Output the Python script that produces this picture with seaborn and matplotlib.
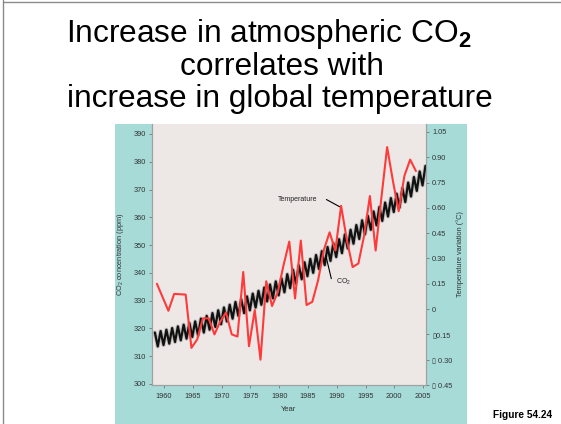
import pandas as pd
import matplotlib
matplotlib.use("Agg")
import matplotlib.pyplot as plt
import seaborn as sns
from matplotlib.patches import Rectangle
from matplotlib.lines import Line2D

# --- valores ---
# variacao anual de temperatura (linha vermelha)
temp_years = list(range(1958, 2004))
temp_values = [0.15, 0.07, -0.01, 0.09, 0.088, 0.086, -0.23, -0.18, -0.055, -0.055,
               -0.15, -0.075, -0.02, -0.15, -0.163, 0.22, -0.22, -0.006, -0.30, 0.165,
               0.018, 0.10, 0.26, 0.40, 0.063, 0.406, 0.024, 0.043, 0.17, 0.35,
               0.455, 0.347, 0.612, 0.41, 0.249, 0.27, 0.435, 0.67, 0.347, 0.66,
               0.96, 0.76, 0.58, 0.79, 0.886, 0.818]

# CO2: maximo e minimo sazonal de cada ano (linha preta em zigue-zague)
co2_high_years = list(range(1958, 2006))
co2_high = [318.5, 319.0, 319.5, 320.1, 320.7, 321.3, 321.9, 322.5, 323.5, 324.5,
            325.5, 326.5, 327.5, 328.5, 329.5, 330.5, 331.5, 332.5, 333.5, 334.7,
            335.8, 336.9, 338.0, 339.5, 341.1, 342.7, 343.8, 345.0, 346.4, 347.8,
            349.3, 350.7, 352.1, 353.8, 355.5, 357.2, 358.9, 360.5, 362.1, 363.7,
            365.3, 366.9, 368.5, 370.5, 372.5, 374.5, 376.5, 378.5]
co2_low_years = list(range(1958, 2005))
co2_low = [313.5, 314.0, 314.5, 315.1, 315.7, 316.3, 316.9, 317.5, 318.5, 319.5,
           320.5, 321.5, 322.5, 323.5, 324.5, 325.5, 326.5, 327.5, 328.5, 329.7,
           330.8, 331.9, 333.0, 334.5, 336.1, 337.7, 338.8, 340.0, 341.4, 342.8,
           344.3, 345.7, 347.1, 348.8, 350.5, 352.2, 353.9, 355.5, 357.1, 358.7,
           360.3, 361.9, 363.5, 365.5, 367.5, 369.5, 371.5]

year_ticks = [1960, 1965, 1970, 1975, 1980, 1985, 1990, 1995, 2000, 2005]
co2_ticks = [300, 310, 320, 330, 340, 350, 360, 370, 380, 390]
temp_ticks = [-0.45, -0.30, -0.15, 0, 0.15, 0.30, 0.45, 0.60, 0.75, 0.90, 1.05]
temp_labels = ["\u25af 0.45", "\u25af 0.30", "\u25af0.15", "0", "0.15", "0.30",
               "0.45", "0.60", "0.75", "0.90", "1.05"]

sns.set_theme(style="white")
plt.rcParams['font.family'] = ['Liberation Sans', 'DejaVu Sans']
plt.rcParams['mathtext.fontset'] = 'custom'
plt.rcParams['mathtext.rm'] = 'Liberation Sans'
plt.rcParams['mathtext.bf'] = 'Liberation Sans:bold'

# tabela do zigue-zague: picos no meio do ano, vales no fim
df_co2 = pd.concat([
    pd.DataFrame({'x': [y + 0.4 for y in co2_high_years], 'ppm': co2_high}),
    pd.DataFrame({'x': [y + 0.9 for y in co2_low_years], 'ppm': co2_low}),
]).sort_values('x')
df_temp = pd.DataFrame({'x': [y + 0.75 for y in temp_years], 'temp': temp_values})

fig = plt.figure(figsize=(5.61, 4.24), dpi=100)
fig.patch.set_facecolor('white')

# painel azul-esverdeado de fundo (atras dos eixos)
fig.patches.append(Rectangle((115 / 561, 0), 352 / 561, 300 / 424,
                             transform=fig.transFigure, facecolor='#A6DBD8',
                             edgecolor='none', zorder=-5))
# borda do slide
fig.lines.append(Line2D([3 / 561, 3 / 561], [0, 1], transform=fig.transFigure,
                        color='#8a8a8a', lw=1, zorder=-4))
fig.lines.append(Line2D([3 / 561, 1], [1 - 1.5 / 424, 1 - 1.5 / 424],
                        transform=fig.transFigure, color='#8a8a8a', lw=1, zorder=-4))

ax = fig.add_axes([152 / 561, 39 / 424, 274 / 561, 261 / 424])
ax.set_facecolor('#EDE8E6')
ax2 = ax.twinx()
ax2.patch.set_visible(False)

sns.lineplot(data=df_co2, x='x', y='ppm', ax=ax, color='#9a9a9a', linewidth=3.0,
             alpha=0.55, estimator=None)
sns.lineplot(data=df_co2, x='x', y='ppm', ax=ax, color='#111111', linewidth=1.6,
             estimator=None)
sns.lineplot(data=df_temp, x='x', y='temp', ax=ax2, color='#FF3A3A', linewidth=1.5,
             estimator=None)

ax.set_xlim(1957.9, 2005.5)
ax.set_ylim(299.6, 393.6)
ax2.set_ylim(-0.45, 1.097)

ax.set_xticks(year_ticks)
ax.set_xticklabels([str(y) for y in year_ticks])
ax.set_yticks(co2_ticks)
ax.set_yticklabels([str(v) for v in co2_ticks])
ax2.set_yticks(temp_ticks)
ax2.set_yticklabels(temp_labels)

for a in (ax, ax2):
    a.tick_params(axis='both', labelsize=5.3, labelcolor='#333333', color='#777777',
                  length=2.5, width=0.6, pad=2)
    a.spines['top'].set_visible(False)
    for side in ('left', 'bottom', 'right'):
        a.spines[side].set_color('#a0a0a0')
        a.spines[side].set_linewidth(0.8)
ax.tick_params(axis='x', bottom=True, pad=3.5)
ax.tick_params(axis='y', left=True)
ax2.tick_params(axis='y', right=True)

ax.set_xlabel('Year', fontsize=5.5, color='#333333', labelpad=4)
ax.set_ylabel('CO$_2$ concentration (ppm)', fontsize=5.3, color='#333333', labelpad=5)
ax2.set_ylabel('Temperature variation (\u00b0C)', fontsize=5.3, color='#333333', labelpad=3)

# rotulos das curvas
ax.text(1986.7, 366.4, 'Temperature', fontsize=5, ha='right', va='center', color='#222222')
ax.plot([1988.2, 1990.5], [366.4, 363.8], color='black', lw=0.8)
ax.text(1989.9, 336.8, 'CO$_2$', fontsize=5, ha='left', va='center', color='#222222')
ax.plot([1988.1, 1989.05], [346.2, 337.9], color='black', lw=0.8)

# titulo
fig.text(268.5 / 561, 1 - 42 / 424, r'Increase in atmospheric CO$_\mathbf{2}$',
         fontsize=22.8, ha='center', va='baseline', color='black')
fig.text(282 / 561, 1 - 75 / 424, 'correlates with',
         fontsize=22.8, ha='center', va='baseline', color='black')
fig.text(280 / 561, 1 - 107 / 424, 'increase in global temperature',
         fontsize=22.8, ha='center', va='baseline', color='black')

fig.text(523 / 561, 1 - 415.5 / 424, 'Figure 54.24', fontsize=7.3, fontweight='bold',
         ha='center', va='center', color='black')

plt.savefig('out.png', dpi=100)
